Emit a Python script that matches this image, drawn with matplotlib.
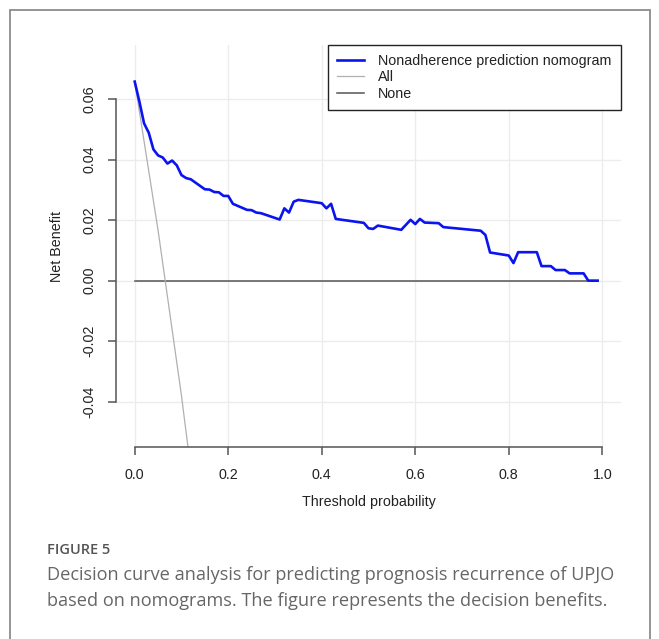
import matplotlib
matplotlib.use("Agg")
import matplotlib.pyplot as plt
from matplotlib.lines import Line2D
from matplotlib.patches import Rectangle

# ---- data ----
threshold = [0.00, 0.01, 0.02, 0.03, 0.04, 0.05, 0.06, 0.07, 0.08, 0.09, 0.10, 0.11, 0.12,
             0.15, 0.16, 0.17, 0.18, 0.19, 0.20, 0.21, 0.24, 0.25, 0.26, 0.27, 0.31, 0.32,
             0.33, 0.34, 0.35, 0.40, 0.41, 0.42, 0.43, 0.49, 0.50, 0.51, 0.52, 0.57, 0.59,
             0.60, 0.61, 0.62, 0.65, 0.66, 0.74, 0.75, 0.76, 0.80, 0.81, 0.82, 0.86, 0.87,
             0.89, 0.90, 0.92, 0.93, 0.96, 0.97, 0.99]
net_benefit_model = [0.0658, 0.0592, 0.0520, 0.0489, 0.0434, 0.0414, 0.0407, 0.0387, 0.0397,
                     0.0381, 0.0349, 0.0339, 0.0335, 0.0302, 0.0301, 0.0293, 0.0292, 0.0280,
                     0.0280, 0.0254, 0.0234, 0.0233, 0.0225, 0.0223, 0.0202, 0.0239, 0.0225,
                     0.0261, 0.0267, 0.0256, 0.0239, 0.0254, 0.0204, 0.0191, 0.0173, 0.0171,
                     0.0182, 0.0168, 0.0201, 0.0187, 0.0204, 0.0192, 0.0190, 0.0177, 0.0165,
                     0.0151, 0.0093, 0.0083, 0.0058, 0.0094, 0.0094, 0.0048, 0.0048, 0.0035,
                     0.0035, 0.0024, 0.0024, 0.0000, 0.0000]
threshold_all = [0.00, 0.05, 0.10, 0.15]
net_benefit_all = [0.0658, 0.0166, -0.0380, -0.0990]
threshold_none = [0.00, 0.99]
net_benefit_none = [0.0, 0.0]

labels = ["Nonadherence prediction nomogram", "All", "None"]
xticks = [0.0, 0.2, 0.4, 0.6, 0.8, 1.0]
yticks = [-0.04, -0.02, 0.00, 0.02, 0.04, 0.06]
xlabel = "Threshold probability"
ylabel = "Net Benefit"
fig_title = "FIGURE 5"
caption = ["Decision curve analysis for predicting prognosis recurrence of UPJO",
           "based on nomograms. The figure represents the decision benefits."]

# ---- figure ----
W, H = 659, 639
fig = plt.figure(figsize=(W / 100, H / 100), dpi=100)
plt.rcParams['font.family'] = ['Liberation Sans', 'DejaVu Sans']

# outer frame
fig.patches.append(Rectangle((10 / W, -0.05), 640 / W, 1 - 10 / H + 0.05,
                             transform=fig.transFigure, fill=False,
                             edgecolor='#8c8c8c', linewidth=1.3))

L, R, T, B = 116, 621, 45, 447.3
ax = fig.add_axes([L / W, 1 - B / H, (R - L) / W, (B - T) / H])
ax.set_xlim(-0.04, 1.04)
ax.set_ylim(-0.0551, 0.0779)

# grid
for xv in xticks:
    ax.axvline(xv, color='#ececec', lw=1.0, zorder=0)
for yv in yticks:
    ax.axhline(yv, color='#ececec', lw=1.0, zorder=0)

ax.plot(threshold_none, net_benefit_none, color='#555555', lw=1.1, zorder=2)
ax.plot(threshold_all, net_benefit_all, color='#b0b0b0', lw=0.9, zorder=2)
ax.plot(threshold, net_benefit_model, color='#0a14f0', lw=1.9, zorder=3)

for s in ['top', 'right']:
    ax.spines[s].set_visible(False)
for s in ['left', 'bottom']:
    ax.spines[s].set_color('#555555')
    ax.spines[s].set_linewidth(1.1)
ax.spines['left'].set_bounds(-0.04, 0.06)
ax.spines['bottom'].set_bounds(0.0, 1.0)

ax.set_xticks(xticks)
ax.set_xticklabels(["%.1f" % v for v in xticks])
ax.set_yticks(yticks)
ax.set_yticklabels(["%.2f" % v for v in yticks], rotation=90, va='center')
ax.tick_params(axis='both', direction='out', length=6, width=1.1, color='#555555',
               labelsize=10.3, labelcolor='#222222')
ax.tick_params(axis='x', pad=9)
ax.tick_params(axis='y', pad=8)

ax.set_xlabel(xlabel, fontsize=10.3, color='#222222')
ax.xaxis.set_label_coords((369 - L) / (R - L), (B - 502) / (B - T))
ax.xaxis.label.set_va('center')
ax.set_ylabel(ylabel, fontsize=10.3, color='#222222')
ax.yaxis.set_label_coords((57 - L) / (R - L), 0.5)
ax.yaxis.label.set_va('center')

handles = [Line2D([], [], color='#0a14f0', lw=1.9),
           Line2D([], [], color='#b0b0b0', lw=0.9),
           Line2D([], [], color='#555555', lw=1.1)]
leg = ax.legend(handles, labels, loc='upper right', bbox_to_anchor=(1.0, 1.0),
                borderaxespad=0, fancybox=False, framealpha=1, edgecolor='#222222',
                labelspacing=0.15, handlelength=1.9, handletextpad=1.0,
                borderpad=0.65, prop={'family': ['Liberation Sans', 'DejaVu Sans'], 'size': 10.3})
leg.get_frame().set_linewidth(1.0)
for t in leg.get_texts():
    t.set_color('#222222')

# caption
fig.text(47 / W, 1 - 550 / H, fig_title, fontsize=10.5, color='#555555',
         family=['Open Sans', 'DejaVu Sans'], fontweight='semibold', va='center', ha='left')
for i, line in enumerate(caption):
    fig.text(47 / W, 1 - (575 + 26 * i) / H, line, fontsize=13.1, color='#666666',
             family=['Open Sans', 'DejaVu Sans'], va='center', ha='left')

fig.savefig("out.png", dpi=100)
